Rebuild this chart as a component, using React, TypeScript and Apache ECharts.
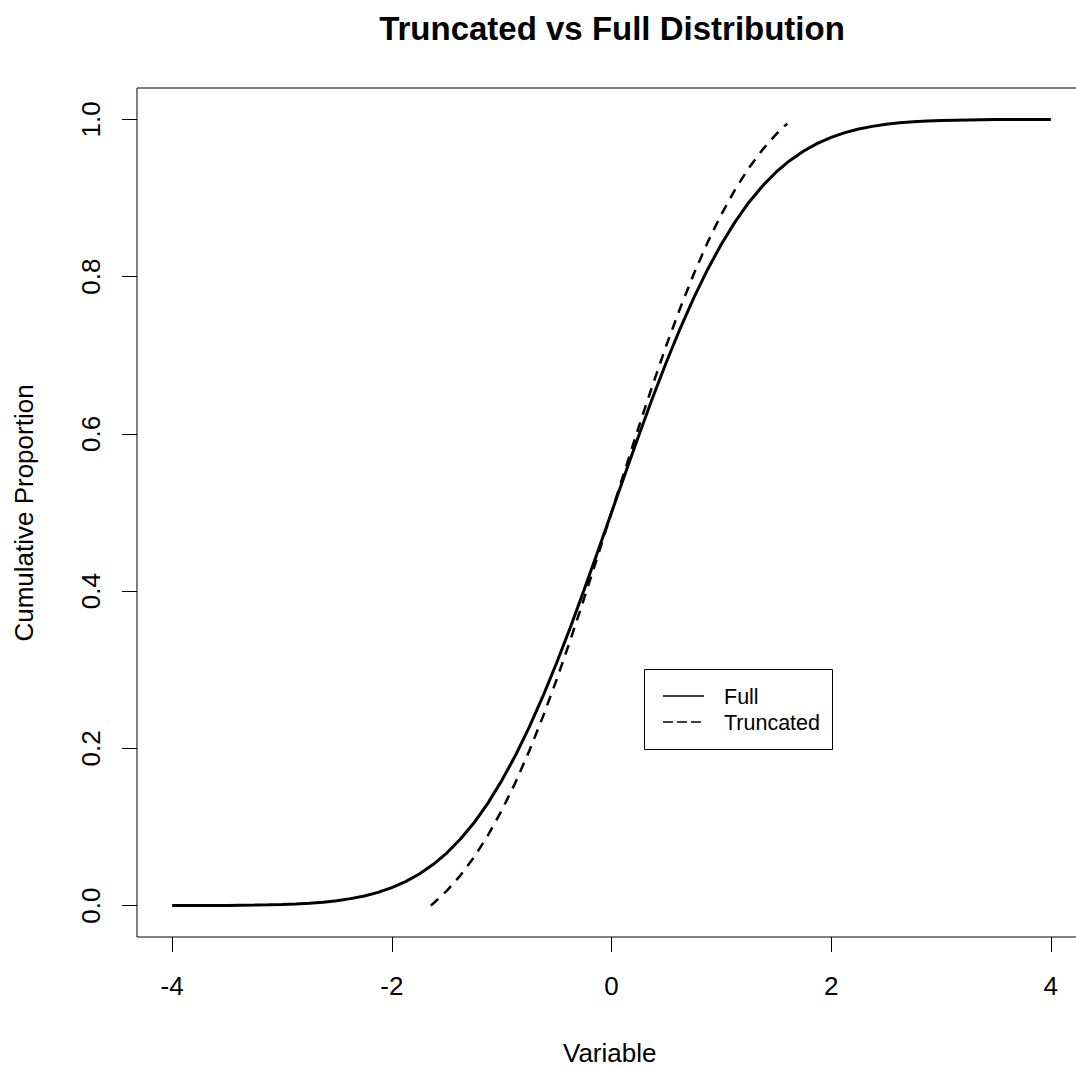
import React, { useEffect, useRef } from "react";
import * as echarts from "echarts";

const FONT = "'Liberation Sans', Arial, Helvetica, sans-serif";

const titleText = "Truncated vs Full Distribution";
const xAxisTitle = "Variable";
const yAxisTitle = "Cumulative Proportion";

const xTicks = [-4, -2, 0, 2, 4];
const yTicks = [0, 0.2, 0.4, 0.6, 0.8, 1.0];

const fullX = [
  -4, -3.875, -3.75, -3.625, -3.5, -3.375, -3.25, -3.125, -3, -2.875, -2.75,
  -2.625, -2.5, -2.375, -2.25, -2.125, -2, -1.875, -1.75, -1.625, -1.5, -1.375,
  -1.25, -1.125, -1, -0.875, -0.75, -0.625, -0.5, -0.375, -0.25, -0.125, 0,
  0.125, 0.25, 0.375, 0.5, 0.625, 0.75, 0.875, 1, 1.125, 1.25, 1.375, 1.5,
  1.625, 1.75, 1.875, 2, 2.125, 2.25, 2.375, 2.5, 2.625, 2.75, 2.875, 3, 3.125,
  3.25, 3.375, 3.5, 3.625, 3.75, 3.875, 4,
];
const fullY = [
  0.0, 0.0001, 0.0001, 0.0001, 0.0002, 0.0004, 0.0006, 0.0009, 0.0013, 0.002,
  0.003, 0.0043, 0.0062, 0.0088, 0.0122, 0.0168, 0.0228, 0.0304, 0.0401,
  0.0521, 0.0668, 0.0846, 0.1056, 0.1303, 0.1587, 0.1908, 0.2266, 0.266,
  0.3085, 0.3538, 0.4013, 0.4503, 0.5, 0.5497, 0.5987, 0.6462, 0.6915, 0.734,
  0.7734, 0.8092, 0.8413, 0.8697, 0.8944, 0.9154, 0.9332, 0.9479, 0.9599,
  0.9696, 0.9772, 0.9832, 0.9878, 0.9912, 0.9938, 0.9957, 0.997, 0.998, 0.9987,
  0.9991, 0.9994, 0.9996, 0.9998, 0.9999, 0.9999, 0.9999, 1.0,
];

const truncX = [
  -1.645, -1.625, -1.5, -1.375, -1.25, -1.125, -1, -0.875, -0.75, -0.625, -0.5,
  -0.375, -0.25, -0.125, 0, 0.125, 0.25, 0.375, 0.5, 0.625, 0.75, 0.875, 1,
  1.125, 1.25, 1.375, 1.5, 1.55, 1.6,
];
const truncY = [
  0.0, 0.0023, 0.0187, 0.0384, 0.0618, 0.0892, 0.1208, 0.1564, 0.1962, 0.24,
  0.2872, 0.3376, 0.3903, 0.4448, 0.5, 0.5552, 0.6097, 0.6624, 0.7128, 0.76,
  0.8038, 0.8436, 0.8792, 0.9108, 0.9382, 0.9616, 0.9813, 0.9882, 0.9947,
];

const legendNames = ["Full", "Truncated"];

export default function App() {
  const ref = useRef<HTMLDivElement>(null);

  useEffect(() => {
    if (!ref.current) return;
    const chart = echarts.init(ref.current, null, { renderer: "svg" });
    const axisTextStyle = { color: "#000", fontFamily: FONT, fontSize: 26 };
    chart.setOption({
      animation: false,
      backgroundColor: "#fff",
      title: {
        text: titleText,
        left: 607,
        top: 7,
        textAlign: "center",
        textStyle: {
          color: "#000",
          fontFamily: FONT,
          fontWeight: "bold",
          fontSize: 33,
        },
      },
      grid: {
        left: 137,
        top: 88,
        right: 14,
        bottom: 130,
        show: true,
        borderColor: "#000",
        borderWidth: 1,
        backgroundColor: "transparent",
      },
      xAxis: {
        type: "value",
        min: -4.32,
        max: 4.32,
        position: "bottom",
        axisLine: { show: false, onZero: false },
        splitLine: { show: false },
        axisTick: {
          show: true,
          length: 15,
          inside: false,
          customValues: xTicks,
          lineStyle: { color: "#000", width: 1 },
        },
        axisLabel: {
          customValues: xTicks,
          margin: 36,
          ...axisTextStyle,
          formatter: (v: number) => String(v),
        },
      },
      yAxis: {
        type: "value",
        min: -0.04,
        max: 1.04,
        position: "left",
        axisLine: { show: false, onZero: false },
        splitLine: { show: false },
        axisTick: {
          show: true,
          length: 15,
          inside: false,
          customValues: yTicks,
          lineStyle: { color: "#000", width: 1 },
        },
        axisLabel: {
          customValues: yTicks,
          rotate: 90,
          margin: 33,
          ...axisTextStyle,
          formatter: (v: number) => v.toFixed(1),
        },
      },
      series: [
        {
          name: legendNames[0],
          type: "line",
          data: fullX.map((x, i) => [x, fullY[i]]),
          symbol: "none",
          smooth: false,
          lineStyle: { color: "#000", width: 3, type: "solid" },
        },
        {
          name: legendNames[1],
          type: "line",
          data: truncX.map((x, i) => [x, truncY[i]]),
          symbol: "none",
          smooth: false,
          lineStyle: { color: "#000", width: 2.5, type: [10, 8] },
        },
      ],
      graphic: [
        {
          type: "text",
          left: 611 - 48,
          top: 1040,
          style: {
            text: xAxisTitle,
            fill: "#000",
            font: `26px ${FONT}`,
          },
        },
        {
          type: "text",
          x: 24,
          y: 513,
          rotation: Math.PI / 2,
          style: {
            text: yAxisTitle,
            fill: "#000",
            font: `26px ${FONT}`,
            align: "center",
            verticalAlign: "middle",
          },
        },
        {
          type: "group",
          children: [
            {
              type: "rect",
              shape: { x: 644.5, y: 669.5, width: 188, height: 80 },
              style: { fill: "#fff", stroke: "#000", lineWidth: 1 },
            },
            {
              type: "line",
              shape: { x1: 663, y1: 696, x2: 704, y2: 696 },
              style: { stroke: "#000", lineWidth: 1.3 },
            },
            {
              type: "line",
              shape: { x1: 663, y1: 722, x2: 704, y2: 722 },
              style: { stroke: "#000", lineWidth: 1.3, lineDash: [10, 4] },
            },
            {
              type: "text",
              x: 724,
              y: 697,
              style: {
                text: legendNames[0],
                fill: "#000",
                font: `21.5px ${FONT}`,
                verticalAlign: "middle",
              },
            },
            {
              type: "text",
              x: 724,
              y: 723,
              style: {
                text: legendNames[1],
                fill: "#000",
                font: `21.5px ${FONT}`,
                verticalAlign: "middle",
              },
            },
          ],
        },
      ],
    });
    return () => chart.dispose();
  }, []);

  return (
    <div
      style={{
        position: "absolute",
        left: 0,
        top: 0,
        width: 1076,
        height: 1067,
        overflow: "hidden",
        background: "#fff",
      }}
    >
      <div ref={ref} style={{ width: 1100, height: 1067 }} />
    </div>
  );
}
